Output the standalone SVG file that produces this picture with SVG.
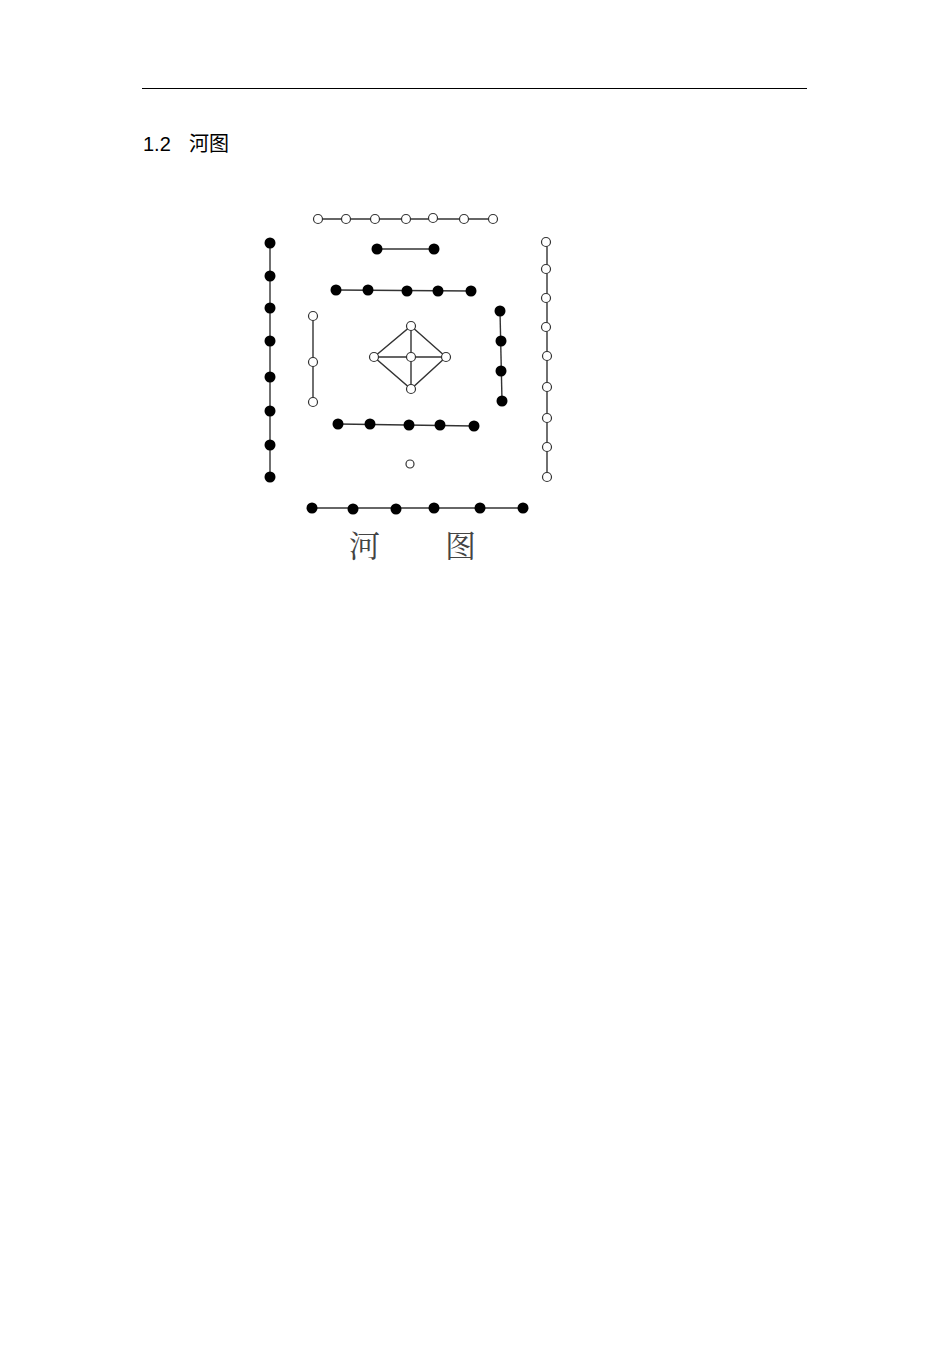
<svg xmlns="http://www.w3.org/2000/svg" width="950" height="1345" viewBox="0 0 950 1345">
<style>
.ln{stroke:#333;stroke-width:1.4;fill:none}
.b{fill:#000}
.w{fill:#fff;stroke:#333;stroke-width:1.2}
.t{font-family:"Liberation Sans","Noto Sans CJK SC",sans-serif;font-size:20px;fill:#000}
.cap{font-family:"Noto Serif CJK SC","Noto Sans CJK SC",serif;font-size:31px;fill:#444}
</style>
<rect width="950" height="1345" fill="#fff"/>
<line x1="142" y1="88.5" x2="807" y2="88.5" stroke="#000" stroke-width="1"/>
<text class="t" x="143" y="151">1.2</text>
<text class="t" x="189" y="151">河图</text>
<g id="connectors">
<line class="ln" x1="318" y1="219" x2="493" y2="219"/>
<line class="ln" x1="377" y1="249" x2="434" y2="249"/>
<line class="ln" x1="336" y1="290" x2="471" y2="291"/>
<line class="ln" x1="270" y1="243" x2="270" y2="477"/>
<line class="ln" x1="313" y1="316" x2="313" y2="402"/>
<line class="ln" x1="500" y1="311" x2="502" y2="401"/>
<line class="ln" x1="547" y1="242" x2="547" y2="477"/>
<line class="ln" x1="338" y1="424" x2="474" y2="426"/>
<line class="ln" x1="312" y1="508" x2="523" y2="508"/>
<path class="ln" d="M411 326 L446 357 L411 389 L374 357 Z M411 326 L411 389 M374 357 L446 357"/>
</g>
<g id="top-white">
<circle class="w" cx="318" cy="219" r="4.5"/><circle class="w" cx="346" cy="219" r="4.5"/><circle class="w" cx="375" cy="219" r="4.5"/><circle class="w" cx="406" cy="219" r="4.5"/><circle class="w" cx="433" cy="218" r="4.5"/><circle class="w" cx="464" cy="219" r="4.5"/><circle class="w" cx="493" cy="219" r="4.5"/>
</g>
<g id="top-black">
<circle class="b" cx="377" cy="249" r="5.5"/><circle class="b" cx="434" cy="249" r="5.5"/>
</g>
<g id="upper-black">
<circle class="b" cx="336" cy="290" r="5.5"/><circle class="b" cx="368" cy="290" r="5.5"/><circle class="b" cx="407" cy="291" r="5.5"/><circle class="b" cx="438" cy="291" r="5.5"/><circle class="b" cx="471" cy="291" r="5.5"/>
</g>
<g id="left-black">
<circle class="b" cx="270" cy="243" r="5.5"/><circle class="b" cx="270" cy="276" r="5.5"/><circle class="b" cx="270" cy="308" r="5.5"/><circle class="b" cx="270" cy="341" r="5.5"/><circle class="b" cx="270" cy="377" r="5.5"/><circle class="b" cx="270" cy="411" r="5.5"/><circle class="b" cx="270" cy="445" r="5.5"/><circle class="b" cx="270" cy="477" r="5.5"/>
</g>
<g id="left-white">
<circle class="w" cx="313" cy="316" r="4.5"/><circle class="w" cx="313" cy="362" r="4.5"/><circle class="w" cx="313" cy="402" r="4.5"/>
</g>
<g id="center">
<circle class="w" cx="411" cy="326" r="4.5"/><circle class="w" cx="411" cy="357" r="4.5"/><circle class="w" cx="374" cy="357" r="4.5"/><circle class="w" cx="446" cy="357" r="4.5"/><circle class="w" cx="411" cy="389" r="4.5"/>
</g>
<g id="right-black">
<circle class="b" cx="500" cy="311" r="5.5"/><circle class="b" cx="501" cy="341" r="5.5"/><circle class="b" cx="501" cy="371" r="5.5"/><circle class="b" cx="502" cy="401" r="5.5"/>
</g>
<g id="right-white">
<circle class="w" cx="546" cy="242" r="4.5"/><circle class="w" cx="546" cy="269" r="4.5"/><circle class="w" cx="546" cy="298" r="4.5"/><circle class="w" cx="546" cy="327" r="4.5"/><circle class="w" cx="547" cy="356" r="4.5"/><circle class="w" cx="547" cy="387" r="4.5"/><circle class="w" cx="547" cy="418" r="4.5"/><circle class="w" cx="547" cy="447" r="4.5"/><circle class="w" cx="547" cy="477" r="4.5"/>
</g>
<g id="lower-black">
<circle class="b" cx="338" cy="424" r="5.5"/><circle class="b" cx="370" cy="424" r="5.5"/><circle class="b" cx="409" cy="425" r="5.5"/><circle class="b" cx="440" cy="425" r="5.5"/><circle class="b" cx="474" cy="426" r="5.5"/>
</g>
<g id="single-white">
<circle class="w" cx="410" cy="464" r="4"/>
</g>
<g id="bottom-black">
<circle class="b" cx="312" cy="508" r="5.5"/><circle class="b" cx="353" cy="509" r="5.5"/><circle class="b" cx="396" cy="509" r="5.5"/><circle class="b" cx="434" cy="508" r="5.5"/><circle class="b" cx="480" cy="508" r="5.5"/><circle class="b" cx="523" cy="508" r="5.5"/>
</g>
<text class="cap" x="349" y="557">河</text>
<text class="cap" x="445" y="557">图</text>
</svg>
